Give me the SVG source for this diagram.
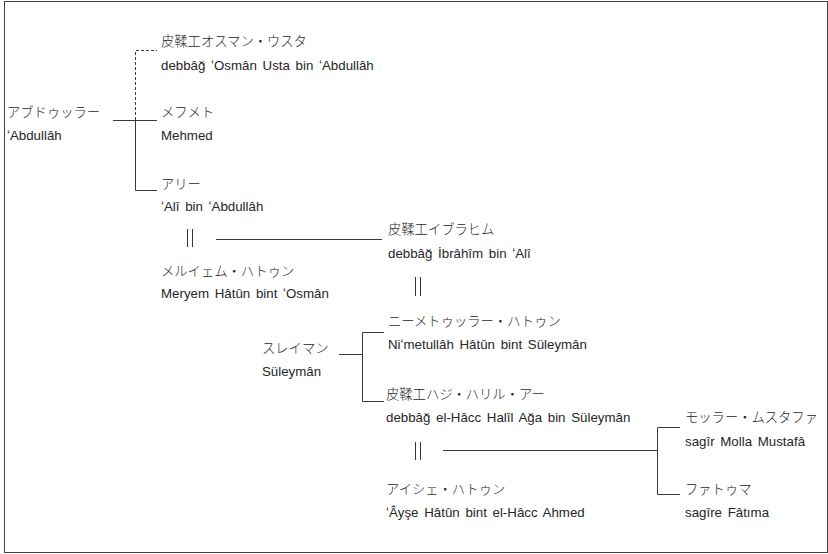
<svg xmlns="http://www.w3.org/2000/svg" width="828" height="554" viewBox="0 0 828 554">
<style>
text{font-family:"Liberation Sans","Noto Sans CJK JP",Arial,sans-serif;font-size:13.3px;word-spacing:2px;fill:#262626}
.jp{font-family:"Noto Sans CJK JP","Liberation Sans",sans-serif;font-size:13.3px;font-weight:300;word-spacing:0}
.ln{stroke:#3a3a3a;stroke-width:1;fill:none}
.ds{stroke-dasharray:3,2}
</style>
<rect x="4.5" y="1.5" width="823" height="551" fill="#fff" stroke="#444" stroke-width="1"/>
<g id="connectors">
<path class="ln ds" d="M135.5 120V50.5H157"/>
<path class="ln" d="M113 120.5H157M135.5 120V190.5H157"/>
<path class="ln" d="M187.5 229V247M192.5 229V247"/>
<path class="ln" d="M216 239.5H382"/>
<path class="ln" d="M415.5 277V296M420.5 277V296"/>
<path class="ln" d="M339 354.5H362.5M384 332.5H362.5V401.5H384"/>
<path class="ln" d="M415.5 442V460M420.5 442V460"/>
<path class="ln" d="M443 450.5H657.5M680 427.5H657.5V494.5H680"/>
</g>
<g id="abdullah"><text class="jp" x="7" y="117">アブドゥッラー</text><text x="7" y="140">ʻAbdullâh</text></g>
<g id="osman"><text class="jp" x="161" y="46">皮鞣工オスマン・ウスタ</text><text x="161" y="70">debbâğ ʻOsmân Usta bin ʻAbdullâh</text></g>
<g id="mehmed"><text class="jp" x="161" y="117">メフメト</text><text x="161" y="140">Mehmed</text></g>
<g id="ali"><text class="jp" x="161" y="189">アリー</text><text x="161" y="211">ʻAlî bin ʻAbdullâh</text></g>
<g id="meryem"><text class="jp" x="161" y="276">メルイェム・ハトゥン</text><text x="161" y="298">Meryem Hâtûn bint ʻOsmân</text></g>
<g id="ibrahim"><text class="jp" x="388" y="234">皮鞣工イブラヒム</text><text x="388" y="258">debbâğ İbrâhîm bin ʻAlî</text></g>
<g id="suleyman"><text class="jp" x="262" y="353">スレイマン</text><text x="262" y="376">Süleymân</text></g>
<g id="nimetullah"><text class="jp" x="388" y="326">ニーメトゥッラー・ハトゥン</text><text x="388" y="349">Niʻmetullâh Hâtûn bint Süleymân</text></g>
<g id="halil"><text class="jp" x="386" y="399">皮鞣工ハジ・ハリル・アー</text><text x="386" y="422">debbâğ el-Hâcc Halîl Ağa bin Süleymân</text></g>
<g id="ayshe"><text class="jp" x="386" y="494">アイシェ・ハトゥン</text><text x="386" y="517">ʻÂyşe Hâtûn bint el-Hâcc Ahmed</text></g>
<g id="molla"><text class="jp" x="685" y="422">モッラー・ムスタファ</text><text x="685" y="446">sagîr Molla Mustafâ</text></g>
<g id="fatima"><text class="jp" x="685" y="494">ファトゥマ</text><text x="685" y="517">sagîre Fâtıma</text></g>
</svg>
